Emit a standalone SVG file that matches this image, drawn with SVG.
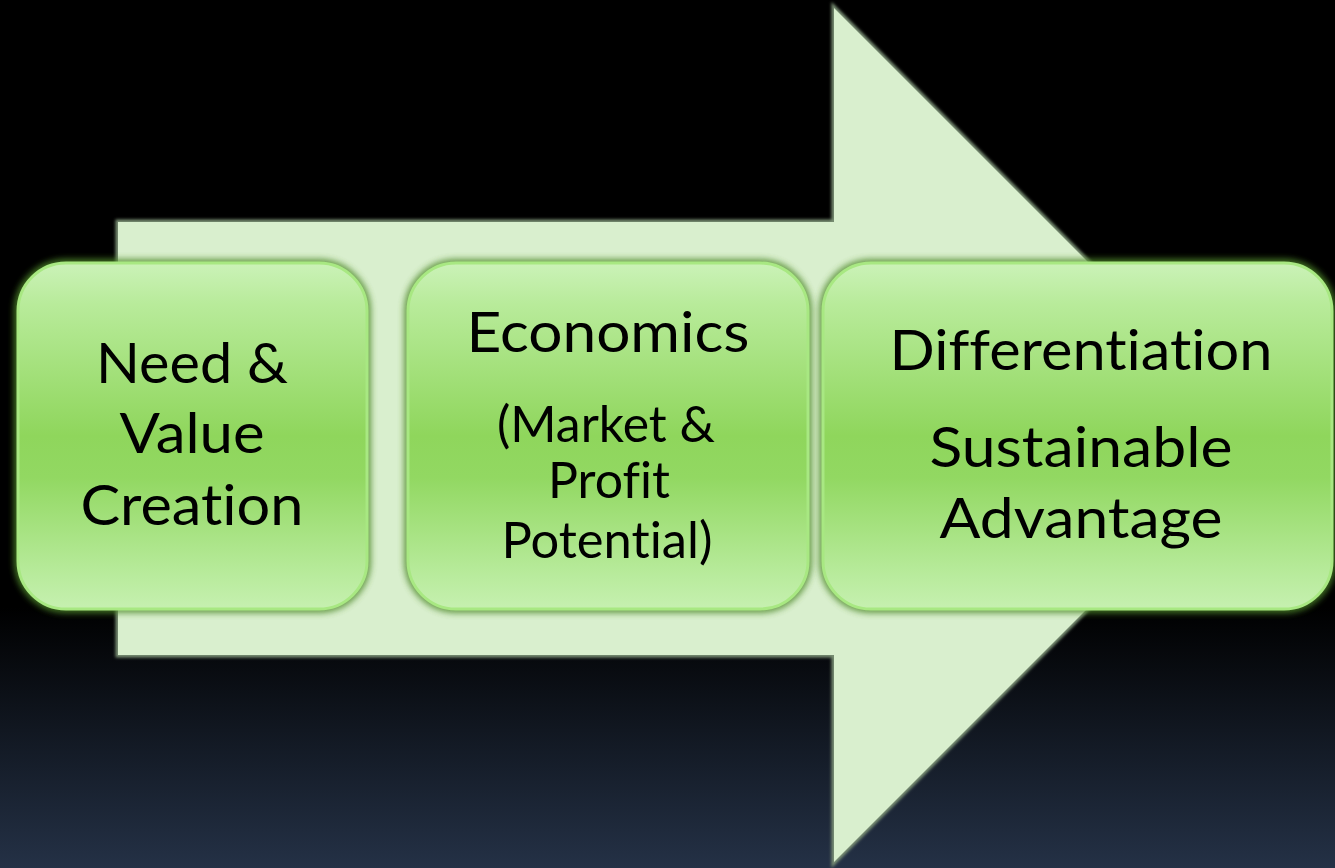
<svg xmlns="http://www.w3.org/2000/svg" width="1335" height="868" viewBox="0 0 1335 868">
  <defs>
    <linearGradient id="bg" x1="0" y1="0" x2="0" y2="1">
      <stop offset="0" stop-color="#000000"/>
      <stop offset="0.7" stop-color="#000000"/>
      <stop offset="1" stop-color="#243146"/>
    </linearGradient>
    <linearGradient id="boxfill" x1="0" y1="0" x2="0" y2="1">
      <stop offset="0" stop-color="#cbf2b8"/>
      <stop offset="0.12" stop-color="#b8eb9a"/>
      <stop offset="0.5" stop-color="#8fd65c"/>
      <stop offset="0.62" stop-color="#92d862"/>
      <stop offset="0.9" stop-color="#b8eb9c"/>
      <stop offset="1" stop-color="#c6f0b0"/>
    </linearGradient>
    <filter id="soft" x="-5%" y="-5%" width="110%" height="110%">
      <feGaussianBlur stdDeviation="1.5"/>
    </filter>
    <filter id="glow" x="-10%" y="-10%" width="120%" height="120%">
      <feGaussianBlur stdDeviation="3"/>
    </filter>
    <style>
      .lbl { font-family: Lato, "Open Sans", "Liberation Sans", sans-serif; fill: #000000; text-anchor: middle; font-variant-ligatures: none; font-feature-settings: "liga" 0, "clig" 0, "dlig" 0; }
      .big { font-size: 57px; }
      .sub { font-size: 51px; }
      .box { fill: url(#boxfill); stroke: #a8e882; stroke-width: 3; }
      .boxglow { fill: none; stroke: #4f8a2c; stroke-width: 8; opacity: 0.85; }
    </style>
  </defs>
  <rect x="0" y="0" width="1335" height="868" fill="url(#bg)"/>

  <g id="arrow">
    <polygon points="118,222 834,222 834,8 1261,435 834,862 834,655 118,655" fill="none" stroke="#7c9276" stroke-width="5" filter="url(#soft)"/>
    <polygon points="118,222 834,222 834,8 1261,435 834,862 834,655 118,655" fill="#d9efce"/>
  </g>

  <g id="connectors"></g>

  <g id="node-need">
    <rect class="boxglow" x="18" y="263" width="349" height="346" rx="48" filter="url(#glow)"/>
    <rect class="box" x="18" y="263" width="349" height="346" rx="48"/>
    <text class="lbl big" x="192" y="383" textLength="192" lengthAdjust="spacingAndGlyphs">Need &amp;</text>
    <text class="lbl big" x="192" y="453" textLength="145" lengthAdjust="spacingAndGlyphs">Value</text>
    <text class="lbl big" x="192" y="525" textLength="223" lengthAdjust="spacingAndGlyphs">Creation</text>
  </g>

  <g id="node-economics">
    <rect class="boxglow" x="408" y="263" width="400" height="346" rx="48" filter="url(#glow)"/>
    <rect class="box" x="408" y="263" width="400" height="346" rx="48"/>
    <text class="lbl big" x="608" y="352" textLength="283" lengthAdjust="spacingAndGlyphs">Economics</text>
    <text class="lbl sub" x="606" y="442" textLength="218" lengthAdjust="spacingAndGlyphs">(Market &amp;</text>
    <text class="lbl sub" x="609" y="498" textLength="122" lengthAdjust="spacingAndGlyphs">Profit</text>
    <text class="lbl sub" x="607" y="558" textLength="211" lengthAdjust="spacingAndGlyphs">Potential)</text>
  </g>

  <g id="node-differentiation">
    <rect class="boxglow" x="823" y="263" width="509" height="346" rx="48" filter="url(#glow)"/>
    <rect class="box" x="823" y="263" width="509" height="346" rx="48"/>
    <text class="lbl big" x="1081" y="370" textLength="383" lengthAdjust="spacingAndGlyphs">Differentiation</text>
    <text class="lbl big" x="1081" y="467" textLength="303" lengthAdjust="spacingAndGlyphs">Sustainable</text>
    <text class="lbl big" x="1081" y="538" textLength="283" lengthAdjust="spacingAndGlyphs">Advantage</text>
  </g>
</svg>
